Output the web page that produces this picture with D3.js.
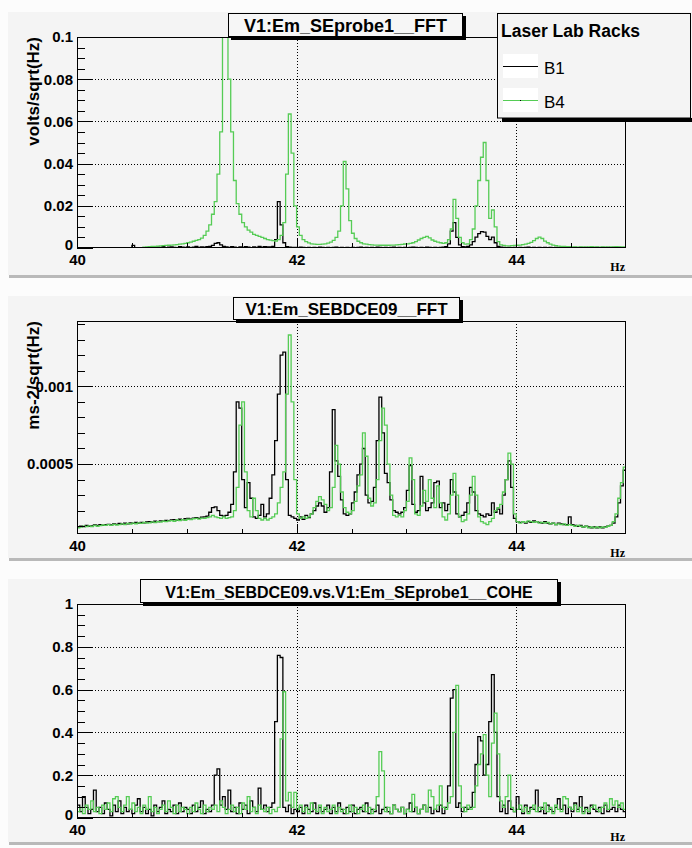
<!DOCTYPE html>
<html><head><meta charset="utf-8">
<script src="https://cdn.jsdelivr.net/npm/d3@7"></script>
<style>html,body{margin:0;padding:0;background:#fcfcfc;} svg{display:block;}</style>
</head><body><svg id="c" width="692" height="848"></svg>
<script>
// ---------- data ----------
const freqStart = 40, freqEnd = 45, binWidth = 0.025;
const xMajorTicks = [40, 42, 44];
const xMinorTicks = [40.5, 41, 41.5, 42.5, 43, 43.5, 44.5];
const seriesNames = ["B1", "B4"];
const legendTitle = "Laser Lab Racks";
const panelTitles = ["V1:Em_SEprobe1__FFT", "V1:Em_SEBDCE09__FFT", "V1:Em_SEBDCE09.vs.V1:Em_SEprobe1__COHE"];
const yTitles = ["volts/sqrt(Hz)", "ms-2/sqrt(Hz)", ""];
const xUnit = "Hz";

const topYTicks = [0, 0.02, 0.04, 0.06, 0.08, 0.1];
const midYTicks = [0.0005, 0.001];
const coheYTicks = [0, 0.2, 0.4, 0.6, 0.8, 1];

// top panel: volts/sqrt(Hz), bins of 0.025 Hz from 40 Hz
const topB1 = [
0,0,0,0,0,0,0,0,0,0,
0,0,0,0,0,0,0,0,0,0,
.0012,0,0,0,0,0,.0003,.0005,.0002,.0004,
.0003,.0006,.0002,.0004,.0005,.0003,.0002,.0006,.0004,.0003,
.0005,.0002,.0004,.0007,.0003,.0005,.0004,.0006,.0008,.0012,
.0022,.0025,.0015,.0008,.0005,.0003,.0006,.0004,.0002,.0005,
.0003,.0006,.0004,.0002,.0005,.0003,.0007,.0004,.0006,.0005,
.0005,.0008,.004,.022,.011,.0025,.0006,.0004,.0003,.0003,
.0002,.0004,.0003,.0002,.0003,.0002,.0003,.0002,.0004,.0003,
.0002,.0003,.0002,.0003,.0004,.0002,.0003,.0002,.0003,.0002,
.0003,.0002,.0003,.0004,.0002,.0003,.0002,.0003,.0002,.0004,
.0003,.0002,.0003,.0002,.0003,.0004,.0002,.0003,.0002,.0003,
.0002,.0003,.0004,.0003,.0002,.0003,.0002,.0004,.0003,.0002,
.0003,.0002,.0003,.0004,.0006,.002,.008,.012,.005,.0015,
.0006,.0005,.0008,.0015,.003,.0052,.0068,.0078,.0075,.0055,
.004,.0052,.0025,.0008,.0004,.0003,.0002,.0003,.0002,.0003,
.0002,.0003,.0002,.0003,.0004,.0002,.0003,.0002,.0003,.0002,
.0003,.0002,.0003,.0002,.0003,.0002,.0003,.0004,.0002,.0003,
.0002,.0003,.0002,.0003,.0002,.0003,.0002,.0003,.0002,.0003,
.0002,.0003,.0002,.0003,.0002,.0003,.0002,.0003,.0002,.0002
];
const topB4 = [
.0002,.0002,.0002,.0002,.0002,.0002,.0002,.0002,.0002,.0002,
.0002,.0002,.0002,.0002,.0002,.0002,.0002,.0002,.0002,.0002,
.0002,.0002,.0002,.0002,.0004,.0005,.0006,.0007,.0008,.0009,
.001,.0011,.0012,.0013,.0014,.0015,.0016,.0018,.002,.0022,
.0025,.0028,.0032,.0036,.004,.0047,.006,.008,.011,.016,
.022,.035,.055,.11,.13,.08,.055,.032,.021,.016,
.012,.01,.0085,.0075,.0065,.006,.0055,.005,.0045,.004,
.0037,.0035,.0033,.004,.006,.012,.035,.0635,.045,.02,
.01,.006,.004,.003,.0024,.002,.0018,.0017,.0017,.0018,
.002,.0023,.0028,.0036,.005,.008,.02,.041,.028,.013,
.007,.0045,.0032,.0025,.002,.0018,.0016,.0015,.0014,.0014,
.0013,.0013,.0013,.0013,.0014,.0014,.0015,.0016,.0017,.0019,
.002,.0022,.0025,.003,.0038,.0045,.005,.0055,.0048,.0038,
.0032,.0028,.0025,.0022,.0025,.004,.009,.023,.014,.005,
.0025,.0018,.002,.004,.009,.02,.032,.043,.05,.032,
.014,.018,.01,.003,.0015,.0012,.001,.001,.0011,.0012,
.0013,.0014,.0016,.0018,.0022,.0027,.0035,.0045,.0052,.0045,
.0033,.0025,.0018,.0014,.0011,.0009,.0008,.0007,.0006,.0006,
.0005,.0005,.0004,.0005,.0005,.0004,.0005,.0006,.0005,.0005,
.0004,.0005,.0005,.0004,.0005,.0005,.0006,.0005,.0005,.0005
];

// middle panel: ms-2/sqrt(Hz)
const midB1 = [
0.95e-4,1.0e-4,0.98e-4,1.05e-4,1.0e-4,1.02e-4,1.08e-4,1.05e-4,1.1e-4,1.06e-4,
1.1e-4,1.12e-4,1.08e-4,1.15e-4,1.12e-4,1.18e-4,1.14e-4,1.2e-4,1.16e-4,1.22e-4,
1.18e-4,1.24e-4,1.2e-4,1.25e-4,1.22e-4,1.28e-4,1.3e-4,1.26e-4,1.32e-4,1.3e-4,
1.35e-4,1.32e-4,1.38e-4,1.36e-4,1.4e-4,1.42e-4,1.38e-4,1.45e-4,1.42e-4,1.48e-4,
1.5e-4,1.46e-4,1.52e-4,1.55e-4,1.5e-4,1.58e-4,1.6e-4,1.65e-4,1.9e-4,2.2e-4,
2.25e-4,2.0e-4,1.7e-4,1.65e-4,1.7e-4,1.9e-4,2.4e-4,4.5e-4,9.0e-4,8.6e-4,
4.0e-4,2.2e-4,3.8e-4,2.8e-4,1.6e-4,1.5e-4,1.7e-4,2.4e-4,1.6e-4,1.8e-4,
2.8e-4,4.3e-4,6.5e-4,9.5e-4,12.0e-4,12.2e-4,4.0e-4,1.7e-4,1.6e-4,1.5e-4,
1.4e-4,1.6e-4,1.45e-4,1.7e-4,1.55e-4,1.8e-4,2.0e-4,2.3e-4,2.5e-4,2.3e-4,
1.9e-4,2.2e-4,4.5e-4,8.5e-4,5.2e-4,4.2e-4,2.7e-4,1.8e-4,1.7e-4,1.8e-4,
2.5e-4,3.2e-4,4.3e-4,5.0e-4,6.0e-4,3.0e-4,2.5e-4,2.6e-4,3.5e-4,6.5e-4,
9.3e-4,7.0e-4,4.4e-4,3.8e-4,2.7e-4,2.0e-4,1.9e-4,1.8e-4,1.9e-4,2.2e-4,
3.3e-4,4.9e-4,2.4e-4,1.9e-4,2.0e-4,4.2e-4,2.5e-4,2.0e-4,2.2e-4,2.5e-4,
3.8e-4,3.9e-4,2.2e-4,2.5e-4,2.0e-4,2.4e-4,4.0e-4,3.2e-4,1.8e-4,1.6e-4,
1.7e-4,1.9e-4,2.5e-4,3.5e-4,3.2e-4,2.0e-4,1.8e-4,1.7e-4,1.6e-4,1.8e-4,
1.7e-4,2.5e-4,1.9e-4,2.1e-4,1.8e-4,3.0e-4,4.0e-4,5.2e-4,3.5e-4,1.5e-4,
1.3e-4,1.25e-4,1.3e-4,1.2e-4,1.3e-4,1.25e-4,1.35e-4,1.3e-4,1.25e-4,1.2e-4,
1.3e-4,1.2e-4,1.15e-4,1.2e-4,1.1e-4,1.2e-4,1.15e-4,1.1e-4,1.1e-4,1.6e-4,
1.1e-4,1.05e-4,1.0e-4,1.05e-4,0.95e-4,1.0e-4,0.95e-4,0.9e-4,0.95e-4,0.9e-4,
0.95e-4,0.9e-4,0.95e-4,1.0e-4,1.05e-4,1.2e-4,1.6e-4,2.5e-4,3.6e-4,4.6e-4
];
const midB4 = [
0.9e-4,0.95e-4,1.0e-4,0.97e-4,1.02e-4,0.98e-4,1.05e-4,1.0e-4,1.04e-4,1.08e-4,
1.05e-4,1.1e-4,1.06e-4,1.12e-4,1.08e-4,1.1e-4,1.15e-4,1.1e-4,1.18e-4,1.14e-4,
1.2e-4,1.16e-4,1.22e-4,1.18e-4,1.25e-4,1.2e-4,1.22e-4,1.28e-4,1.24e-4,1.3e-4,
1.26e-4,1.32e-4,1.3e-4,1.34e-4,1.36e-4,1.32e-4,1.4e-4,1.36e-4,1.42e-4,1.38e-4,
1.45e-4,1.42e-4,1.48e-4,1.5e-4,1.46e-4,1.52e-4,1.5e-4,1.55e-4,1.6e-4,1.7e-4,
1.6e-4,1.55e-4,1.5e-4,1.6e-4,1.5e-4,1.55e-4,1.6e-4,2.0e-4,3.5e-4,7.5e-4,
9.0e-4,4.5e-4,2.0e-4,1.6e-4,2.8e-4,2.0e-4,1.5e-4,1.4e-4,1.5e-4,1.4e-4,
1.5e-4,1.6e-4,1.8e-4,2.5e-4,3.5e-4,4.5e-4,9.5e-4,13.3e-4,9.0e-4,4.0e-4,
1.8e-4,1.5e-4,1.6e-4,1.5e-4,1.6e-4,1.8e-4,2.2e-4,2.6e-4,2.9e-4,2.7e-4,
2.4e-4,2.0e-4,2.2e-4,3.5e-4,6.2e-4,5.0e-4,3.2e-4,2.2e-4,1.9e-4,1.8e-4,
2.0e-4,2.6e-4,3.6e-4,4.3e-4,7.0e-4,5.5e-4,2.8e-4,2.3e-4,2.5e-4,4.0e-4,
6.5e-4,8.6e-4,7.5e-4,5.0e-4,3.0e-4,1.7e-4,1.6e-4,1.7e-4,1.6e-4,2.0e-4,
2.6e-4,5.4e-4,4.0e-4,1.8e-4,1.7e-4,2.3e-4,3.3e-4,2.6e-4,4.0e-4,2.8e-4,
2.2e-4,3.6e-4,2.5e-4,1.6e-4,1.4e-4,1.8e-4,3.0e-4,4.4e-4,3.0e-4,1.6e-4,
1.3e-4,1.4e-4,1.8e-4,3.0e-4,4.2e-4,3.0e-4,1.6e-4,1.3e-4,1.2e-4,1.1e-4,
1.3e-4,1.5e-4,2.0e-4,2.2e-4,2.4e-4,3.2e-4,4.0e-4,5.7e-4,5.0e-4,1.8e-4,
1.3e-4,1.2e-4,1.3e-4,1.25e-4,1.35e-4,1.3e-4,1.25e-4,1.3e-4,1.2e-4,1.25e-4,
1.2e-4,1.25e-4,1.15e-4,1.2e-4,1.1e-4,1.15e-4,1.1e-4,1.15e-4,1.05e-4,1.1e-4,
1.05e-4,1.0e-4,1.05e-4,1.0e-4,0.95e-4,1.0e-4,0.9e-4,0.95e-4,0.9e-4,0.95e-4,
0.9e-4,0.95e-4,0.92e-4,1.0e-4,1.05e-4,1.3e-4,1.8e-4,2.8e-4,3.8e-4,4.8e-4
];

// bottom panel: coherence
const coheB1 = [
.06,.03,.1,.05,.02,.04,.13,.03,.05,.02,.07,.04,.01,.06,.03,.08,.02,.05,.03,.04,
.02,.06,.09,.03,.05,.02,.04,.01,.06,.03,.05,.08,.02,.04,.03,.06,.02,.07,.03,.05,
.04,.02,.06,.03,.05,.08,.02,.04,.03,.06,.2,.23,.06,.1,.04,.13,.03,.05,.02,.07,
.04,.06,.02,.08,.05,.03,.14,.04,.06,.03,.05,.07,.45,.76,.75,.05,.03,.06,.02,.04,
.03,.05,.02,.06,.04,.03,.07,.02,.05,.03,.04,.06,.02,.05,.03,.07,.04,.02,.05,.03,
.06,.02,.04,.05,.03,.07,.02,.04,.03,.06,.02,.04,.05,.03,.02,.06,.04,.03,.05,.02,
.04,.07,.03,.05,.02,.04,.06,.03,.05,.02,.04,.03,.06,.02,.05,.15,.56,.6,.05,.07,
.03,.05,.04,.05,.12,.25,.38,.36,.2,.25,.45,.67,.4,.1,.03,.06,.02,.08,.04,.03,
.1,.04,.02,.06,.03,.05,.04,.13,.03,.05,.02,.06,.04,.03,.05,.09,.04,.06,.02,.05,
.03,.07,.04,.1,.03,.05,.02,.06,.04,.03,.05,.02,.06,.03,.04,.05,.03,.06,.04,.03
];
const coheB4 = [
.03,.05,.02,.06,.04,.08,.03,.05,.02,.06,.04,.07,.03,.09,.1,.05,.03,.06,.1,.04,
.07,.03,.05,.02,.06,.04,.1,.03,.05,.02,.04,.06,.03,.08,.05,.02,.06,.03,.05,.04,
.02,.05,.03,.07,.04,.02,.06,.03,.05,.04,.06,.03,.08,.05,.02,.04,.06,.03,.05,.02,
.07,.04,.1,.03,.05,.02,.06,.04,.03,.05,.02,.04,.03,.05,.37,.59,.08,.12,.05,.12,
.04,.06,.03,.05,.02,.07,.04,.03,.06,.02,.05,.03,.04,.06,.02,.05,.03,.04,.02,.06,
.03,.05,.02,.04,.06,.03,.05,.02,.04,.1,.31,.22,.03,.05,.02,.06,.04,.03,.05,.02,
.04,.03,.11,.05,.02,.04,.06,.03,.13,.1,.04,.06,.15,.05,.04,.07,.1,.4,.62,.15,
.05,.03,.06,.04,.05,.15,.25,.3,.39,.2,.1,.35,.49,.3,.08,.05,.1,.2,.05,.03,
.04,.06,.03,.05,.02,.04,.06,.03,.05,.04,.07,.03,.05,.02,.06,.04,.03,.1,.09,.05,
.04,.06,.03,.05,.02,.04,.03,.05,.06,.04,.03,.05,.07,.04,.09,.06,.08,.05,.07,.04
];

// ---------- layout ----------
const W = 692, H = 848;
const colors = { B1: "#000000", B4: "#55cc55" };
const padFill = "#f4f4f4";
const frameX0 = 77, frameX1 = 626;

const panels = [
  { padTop: 12, padBottom: 275, frameTop: 37, frameBottom: 248, yDomain: [0, 0.1], yTicks: topYTicks,
    yMinor: d3.range(0, 21).map(k => k * 0.005), title: panelTitles[0], box: [228, 13, 463, 37], titleSize: 18,
    yTitle: yTitles[0], b1: topB1, b4: topB4 },
  { padTop: 296, padBottom: 558, frameTop: 321, frameBottom: 534, yDomain: [0.00005, 0.00142], yTicks: midYTicks,
    yMinor: d3.range(1, 15).map(k => k * 0.0001), title: panelTitles[1], box: [233, 297, 460, 320], titleSize: 17,
    yTitle: yTitles[1], b1: midB1, b4: midB4 },
  { padTop: 579, padBottom: 842, frameTop: 604, frameBottom: 818, yDomain: [0, 1], yTicks: coheYTicks,
    yMinor: d3.range(0, 21).map(k => k * 0.05), title: panelTitles[2], box: [140, 579, 558, 603], titleSize: 16,
    yTitle: yTitles[2], b1: coheB1, b4: coheB4 }
];

const svg = d3.select("#c");
svg.append("rect").attr("width", W).attr("height", H).attr("fill", "#fcfcfc");

const x = d3.scaleLinear().domain([freqStart, freqEnd]).range([frameX0, frameX1]);

panels.forEach((p, pi) => {
  const g = svg.append("g");
  // pad
  g.append("rect").attr("x", 8).attr("y", p.padTop).attr("width", W - 8).attr("height", p.padBottom - p.padTop).attr("fill", padFill);
  g.append("rect").attr("x", 9).attr("y", p.padBottom).attr("width", W - 9).attr("height", 3).attr("fill", "#b9b9b9");

  const y = d3.scaleLinear().domain(p.yDomain).range([p.frameBottom, p.frameTop]);
  const fw = frameX1 - frameX0, fh = p.frameBottom - p.frameTop;

  // grid
  const grid = g.append("g").attr("stroke", "#000").attr("stroke-width", 1).attr("stroke-dasharray", "1,2").attr("shape-rendering", "crispEdges");
  grid.selectAll(".gy").data(p.yTicks.filter(v => v > p.yDomain[0] && v < p.yDomain[1] + 1e-12)).join("line")
    .attr("x1", frameX0).attr("x2", frameX1).attr("y1", d => Math.round(y(d)) + 0.5).attr("y2", d => Math.round(y(d)) + 0.5);
  grid.selectAll(".gx").data(xMajorTicks.filter(v => v > freqStart)).join("line")
    .attr("y1", p.frameTop).attr("y2", p.frameBottom).attr("x1", d => Math.round(x(d)) + 0.5).attr("x2", d => Math.round(x(d)) + 0.5);

  // clip
  const cid = "clip" + pi;
  svg.append("clipPath").attr("id", cid).append("rect").attr("x", frameX0).attr("y", p.frameTop).attr("width", fw).attr("height", fh);

  const line = d3.line().x(d => x(d[0])).y(d => y(d[1])).curve(d3.curveStepAfter);
  [["B1", p.b1], ["B4", p.b4]].forEach(([name, vals]) => {
    const pts = vals.map((v, i) => [freqStart + i * binWidth, v]);
    pts.push([freqEnd, vals[vals.length - 1]]);
    g.append("path").attr("clip-path", `url(#${cid})`).attr("d", line(pts))
      .attr("fill", "none").attr("stroke", colors[name]).attr("stroke-width", 1.3).attr("stroke-linejoin", "miter");
  });

  // axes
  const yAxis = g.append("g").attr("transform", `translate(${frameX0},0)`)
    .call(d3.axisLeft(y).tickValues(p.yTicks).tickSizeInner(-16).tickSizeOuter(0).tickPadding(4).tickFormat(d => String(d)));
  const yMinorAxis = g.append("g").attr("transform", `translate(${frameX0},0)`)
    .call(d3.axisLeft(y).tickValues(p.yMinor).tickSizeInner(-8).tickSizeOuter(0).tickFormat(""));
  const xAxis = g.append("g").attr("transform", `translate(0,${p.frameBottom})`)
    .call(d3.axisBottom(x).tickValues(xMajorTicks).tickSizeInner(-10).tickSizeOuter(0).tickPadding(6).tickFormat(d => String(d)));
  const xMinorAxis = g.append("g").attr("transform", `translate(0,${p.frameBottom})`)
    .call(d3.axisBottom(x).tickValues(xMinorTicks).tickSizeInner(-5).tickSizeOuter(0).tickFormat(""));
  [yAxis, yMinorAxis, xAxis, xMinorAxis].forEach(a => {
    a.select(".domain").remove();
    a.selectAll("line").attr("stroke", "#000").attr("shape-rendering", "crispEdges");
    a.selectAll("text").attr("font-family", "'Liberation Sans', Arial, sans-serif").attr("font-weight", "bold")
      .attr("font-size", 15).attr("fill", "#000");
  });
  // the "0" label sits just above the "40" label, as in the original
  yAxis.selectAll(".tick").filter(d => d === 0).select("text").attr("dy", "0.1em");

  // frame
  g.append("rect").attr("x", frameX0 + 0.5).attr("y", p.frameTop + 0.5).attr("width", fw - 1).attr("height", fh - 1)
    .attr("fill", "none").attr("stroke", "#000").attr("stroke-width", 1);

  // x unit
  g.append("text").attr("x", 625).attr("y", p.frameBottom + 23).attr("text-anchor", "end")
    .attr("font-family", "'Liberation Serif', 'Times New Roman', serif").attr("font-weight", "bold").attr("font-size", 12)
    .text(xUnit);

  // y title
  if (p.yTitle) {
    g.append("text").attr("transform", `translate(39,${p.frameTop}) rotate(-90)`).attr("text-anchor", "end")
      .attr("font-family", "'Liberation Sans', Arial, sans-serif").attr("font-weight", "bold").attr("font-size", 17)
      .text(p.yTitle);
  }

  // title box
  const [bx0, by0, bx1, by1] = p.box;
  g.append("rect").attr("x", bx0 + 3).attr("y", by0 + 3).attr("width", bx1 - bx0).attr("height", by1 - by0).attr("fill", "#000");
  g.append("rect").attr("x", bx0 + 0.5).attr("y", by0 + 0.5).attr("width", bx1 - bx0 - 1).attr("height", by1 - by0 - 1)
    .attr("fill", "#f6f6f6").attr("stroke", "#000");
  g.append("text").attr("x", (bx0 + bx1) / 2).attr("y", by1 - 5.5).attr("text-anchor", "middle")
    .attr("font-family", "'Liberation Sans', Arial, sans-serif").attr("font-weight", "bold").attr("font-size", p.titleSize)
    .text(p.title);
});

// legend (top panel)
const lg = svg.append("g");
lg.append("rect").attr("x", 502).attr("y", 118).attr("width", 195).attr("height", 4).attr("fill", "#000");
lg.append("rect").attr("x", 497.5).attr("y", 13.5).attr("width", 193).attr("height", 104.5).attr("fill", padFill).attr("stroke", "#000");
lg.append("text").attr("x", 501).attr("y", 37).attr("font-family", "'Liberation Sans', Arial, sans-serif")
  .attr("font-weight", "bold").attr("font-size", 17.5).text(legendTitle);
seriesNames.forEach((name, k) => {
  const cy = 66 + k * 34;
  lg.append("rect").attr("x", 503).attr("y", cy - 12).attr("width", 35).attr("height", 24).attr("fill", "#ffffff");
  lg.append("line").attr("x1", 503).attr("x2", 538).attr("y1", cy + 0.5).attr("y2", cy + 0.5).attr("stroke", colors[name]).attr("stroke-width", 1.2);
  if (name === "B4") lg.append("rect").attr("x", 520).attr("y", cy).attr("width", 1).attr("height", 1).attr("fill", "#000");
  lg.append("text").attr("x", 544).attr("y", cy + 8).attr("font-family", "'Liberation Sans', Arial, sans-serif")
    .attr("font-size", 17).text(name);
});
</script>
</body></html>
